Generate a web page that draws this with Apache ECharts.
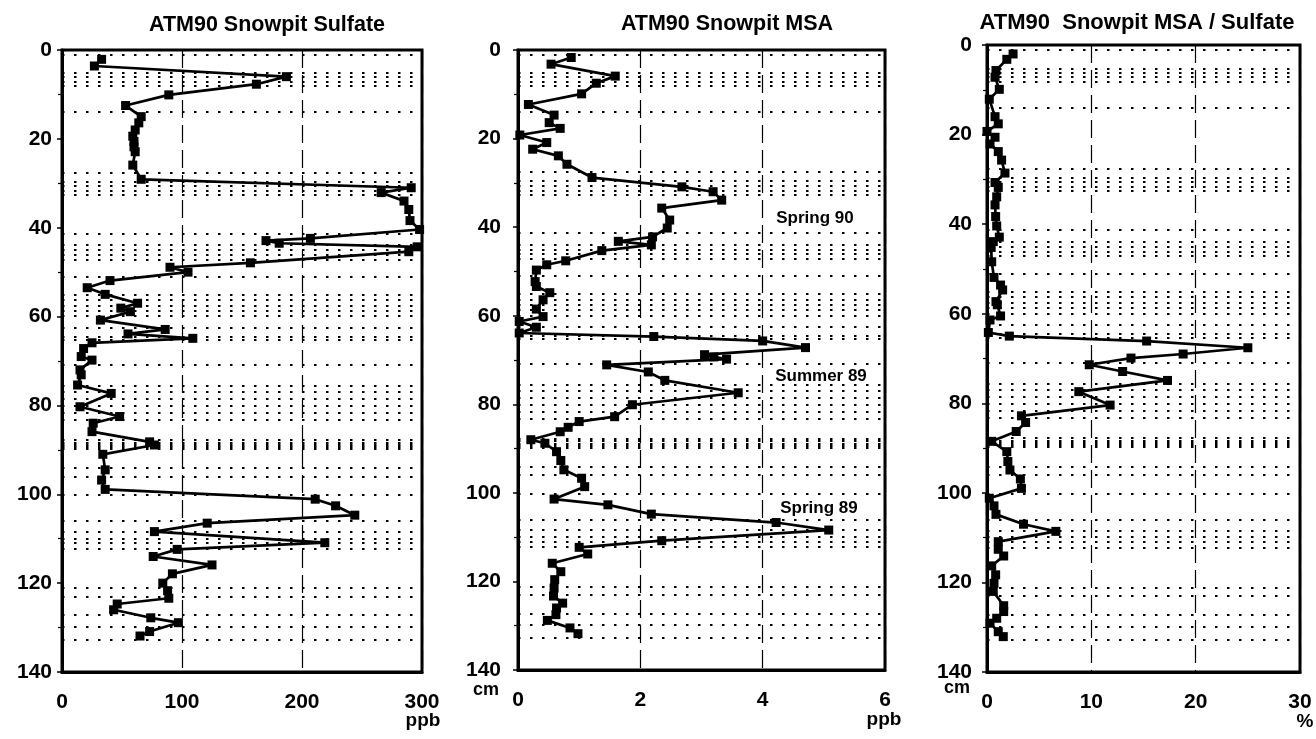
<!DOCTYPE html>
<html><head><meta charset="utf-8">
<script src="https://cdn.jsdelivr.net/npm/echarts@6/dist/echarts.min.js"></script>
<style>html,body{margin:0;padding:0;background:#fff}#c{width:1316px;height:739px}</style>
</head><body><div id="c"></div>
<script>
// ---------- DATA ----------
const layerDepths = [1, 5.2, 6.1, 7.1, 8.1, 14, 27.6, 29.6, 30.6, 31.7, 32.6, 41.3, 43.9, 45, 46.1, 47.1, 51, 55.1, 56.3, 57.5, 58.7, 59.9, 62.5, 64.5, 65.3, 70.9, 75.6, 76.9, 78.6, 80.1, 81.6, 83.3, 87.8, 88.3, 88.8, 89.3, 89.8, 94.1, 96, 100.1, 106, 108.4, 109.9, 111, 112.2, 121.1, 123, 127.2, 129.8, 132.8];

const sulfateDepth = [2.1,3.6,6.0,7.7,10.1,12.5,15.0,16.4,18.0,19.4,20.6,21.8,22.9,25.9,29.1,31.0,32.1,34.0,35.9,38.4,40.4,42.4,42.9,43.5,44.3,45.4,47.9,48.9,50.0,51.9,53.5,55.0,57.0,58.1,58.9,60.8,62.9,63.9,64.9,65.9,67.2,69.0,69.8,72.0,73.1,75.4,77.3,80.3,82.5,84.0,85.9,88.2,88.9,91.0,94.5,96.8,98.9,101.1,102.6,104.7,106.5,108.4,110.9,112.4,114.0,115.9,117.9,120.0,121.7,123.4,124.7,126.0,127.8,128.9,130.9,131.9];
const sulfatePpb = [33,27,187,162,89,53,66,64,61,59,60,60,61,59,66,291,266,285,289,290,298,207,170,181,296,289,157,90,105,40,21,36,63,49,57,32,86,55,109,25,18,16,25,15,16,13,41,15,48,26,25,73,77,34,36,33,36,211,228,244,121,77,219,96,76,125,92,84,88,89,46,43,74,97,73,65];

const msaDepth = [1.7,3.2,5.9,7.5,9.9,12.3,14.7,16.4,17.7,19.2,20.9,22.4,23.9,25.8,28.8,30.9,32.0,33.9,35.7,38.4,40.2,42.2,43.2,44.0,45.3,47.6,48.5,49.7,52.3,53.4,54.8,56.4,58.5,60.2,61.3,62.6,63.9,64.7,65.7,67.2,68.8,69.3,69.8,71.1,72.7,74.6,77.4,80.1,82.8,83.9,85.2,86.2,88.0,88.8,90.7,92.7,94.8,96.7,98.6,101.4,102.7,104.8,106.7,108.4,110.8,112.3,113.8,115.9,117.8,119.6,121.5,123.3,124.9,126.0,127.5,128.8,130.5,131.8];
const msaPpb = [0.87,0.54,1.59,1.28,1.04,0.17,0.59,0.51,0.69,0.03,0.47,0.24,0.66,0.80,1.21,2.68,3.19,3.33,2.35,2.48,2.44,2.20,1.64,2.18,1.37,0.78,0.47,0.30,0.28,0.30,0.52,0.41,0.30,0.41,0.02,0.30,0.02,2.22,4.00,4.70,3.05,3.20,3.41,1.45,2.13,2.40,3.60,1.87,1.58,1.00,0.82,0.69,0.21,0.44,0.63,0.70,0.75,1.04,1.09,0.59,1.47,2.18,4.22,5.08,2.35,1.00,1.14,0.56,0.70,0.60,0.59,0.58,0.73,0.63,0.62,0.48,0.85,0.98];

const ratioDepth = [2,3.2,5.7,7.2,9.9,12.1,16,17.6,19.3,20.6,22.1,23.8,25.7,28.6,30.7,31.8,33.9,35.7,38.3,40.4,42.9,43.9,45.2,48.4,51.9,53.6,54.7,57.3,58,60.5,61.4,64.2,65,66.1,67.6,69,69.9,71.4,72.9,74.9,77.4,80.4,82.8,84.3,86.3,88.5,90.8,93,94.9,96.9,99,101.2,102.9,104.8,107,108.6,110.9,112.6,114.1,116.3,118.3,120.2,122,125.2,126.5,128,129.1,131,132.1];
const ratioPct = [2.5,1.9,0.86,0.77,1.18,0.22,0.77,1.08,0,0.77,0.29,1.08,1.4,1.72,0.77,1.08,0.93,0.77,0.83,0.93,1.18,0.6,0.4,0.45,0.67,1.3,1.5,0.86,0.99,1.3,0.29,0.13,2.14,15.3,25,18.8,13.8,9.8,13,17.3,8.8,11.8,3.3,3.7,2.8,0.45,1.9,2.0,2.2,3.2,3.3,0.22,0.67,0.86,3.5,6.6,1.08,1.08,1.6,0.45,0.83,0.67,0.6,1.6,1.6,0.93,0.29,1.08,1.56];

const panelTitles = ['ATM90 Snowpit Sulfate', 'ATM90 Snowpit MSA', 'ATM90  Snowpit MSA / Sulfate'];
const xMax = [300, 6, 30];
const xStep = [100, 2, 10];
const depthMax = 140, depthStep = 20;
const annotations = ['Spring 90', 'Summer 89', 'Spring 89'];

// ---------- CHART ----------
const FONT = '"Liberation Sans", Arial, Helvetica, sans-serif';
const chart = echarts.init(document.getElementById('c'), null, {renderer: 'canvas'});

const gridBoxes = [
  {left: 62, top: 50, width: 360, height: 622},
  {left: 518, top: 50, width: 367, height: 620},
  {left: 987, top: 45, width: 313, height: 627}
];
const yLabelMargin = [10, 17, 15];

const grids = gridBoxes.map(g => Object.assign({show: true, borderColor: '#000', borderWidth: 3, backgroundColor: 'transparent'}, g));

const xAxes = [0,1,2].map(i => ({
  type: 'value', gridIndex: i, min: 0, max: xMax[i], interval: xStep[i],
  axisLine: {show: true, onZero: false, lineStyle: {color: '#000', width: 3}},
  axisTick: {show: false},
  axisLabel: {color: '#000', fontSize: 21, fontWeight: 'bold', fontFamily: FONT, margin: 20},
  splitLine: {show: true, lineStyle: {color: '#000', width: 1.2, type: [18, 7]}}
}));

const yAxes = [0,1,2].map(i => ({
  type: 'value', gridIndex: i, inverse: true, min: 0, max: depthMax, interval: depthStep,
  axisLine: {show: true, onZero: false, lineStyle: {color: '#000', width: 3}},
  axisTick: {show: true, length: 5, lineStyle: {color: '#000', width: 1.5}},
  minorTick: {show: true, splitNumber: 2, length: 4, lineStyle: {color: '#000', width: 1.2}},
  axisLabel: {color: '#000', fontSize: 21, fontWeight: 'bold', fontFamily: FONT, margin: yLabelMargin[i]},
  splitLine: {show: false}
}));

function profile(i, depths, vals) {
  return {
    type: 'line', xAxisIndex: i, yAxisIndex: i,
    data: depths.map((d, k) => [vals[k], d]),
    symbol: 'rect', symbolSize: 9, showSymbol: true,
    lineStyle: {color: '#000', width: 2.7},
    itemStyle: {color: '#000'},
    animation: false, clip: false, z: 5,
    markLine: {
      silent: true, symbol: ['none', 'none'], animation: false,
      label: {show: false},
      lineStyle: {color: '#000', width: 2, type: [2.5, 9.5]},
      data: layerDepths.map(d => ({yAxis: d}))
    }
  };
}

function txt(x, y, text, size, align) {
  return {type: 'text', x: x, y: y, silent: true, z: 100,
    style: {text: text, fill: '#000', fontSize: size, fontWeight: 'bold', fontFamily: FONT,
      align: align || 'center', verticalAlign: 'middle'}};
}

const graphics = [
  txt(267, 25, panelTitles[0], 21.5),
  txt(727, 24, panelTitles[1], 21.5),
  txt(1137, 23, panelTitles[2], 22),
  txt(423, 721, 'ppb', 19),
  txt(486, 690, 'cm', 18),
  txt(884, 720, 'ppb', 19),
  txt(957, 688, 'cm', 18),
  txt(1305, 722, '%', 19),
  txt(815, 218, annotations[0], 17),
  txt(821, 376, annotations[1], 17),
  txt(819, 508, annotations[2], 17)
];

chart.setOption({
  animation: false,
  backgroundColor: '#fff',
  grid: grids,
  xAxis: xAxes,
  yAxis: yAxes,
  series: [
    profile(0, sulfateDepth, sulfatePpb),
    profile(1, msaDepth, msaPpb),
    profile(2, ratioDepth, ratioPct)
  ],
  graphic: graphics
});
</script></body></html>
